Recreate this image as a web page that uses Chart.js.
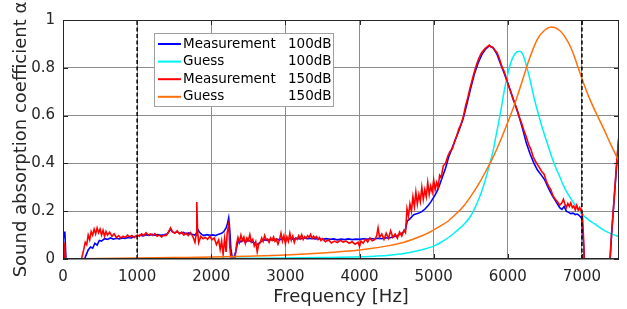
<!DOCTYPE html>
<html>
<head>
<meta charset="utf-8">
<script src="https://cdn.jsdelivr.net/npm/chart.js@4.4.1/dist/chart.umd.min.js"></script>
<style>
	html, body { margin: 0; padding: 0; background: #fff; }
	#wrap { width: 627px; height: 309px; }
</style>
</head>
<body>
<div id="wrap"><canvas id="alpha-chart" width="627" height="309"></canvas></div>
<script>
// Axis ticks
const xTicks = [ 0, 1000, 2000, 3000, 4000, 5000, 6000, 7000 ];
const yTicks = [ 0, 0.2, 0.4, 0.6, 0.8, 1 ];
const markerFreqs = [ 1000, 7000 ];

// Legend text: [ name, level ]
const seriesNames = [
	[ 'Measurement', '100dB' ],
	[ 'Guess', '100dB' ],
	[ 'Measurement', '150dB' ],
	[ 'Guess', '150dB' ],
];

// [ frequency Hz, alpha ]
const measurement100 = [
	[0,0.12],[15,0.09],[25,0.115],[40,0],[120,0],[200,0],[290,0],[310,0.015],[340,0.038],
	[370,0.05],[400,0.045],[430,0.066],[460,0.058],[490,0.078],[520,0.075],[560,0.085],
	[600,0.082],[640,0.088],[680,0.083],[720,0.087],[760,0.084],[800,0.088],[840,0.086],
	[880,0.09],[920,0.088],[960,0.093],[1000,0.096],[1040,0.1],[1080,0.097],[1120,0.101],
	[1160,0.099],[1200,0.103],[1240,0.1],[1280,0.102],[1320,0.099],[1360,0.101],[1400,0.104],
	[1430,0.115],[1450,0.125],[1470,0.115],[1500,0.11],[1540,0.113],[1580,0.107],[1620,0.111],
	[1660,0.106],[1700,0.109],[1740,0.104],[1780,0.1],[1800,0.108],[1815,0.125],[1840,0.112],
	[1870,0.103],[1900,0.098],[1940,0.102],[1980,0.099],[2020,0.101],[2060,0.098],[2100,0.104],
	[2140,0.108],[2170,0.115],[2200,0.13],[2220,0.15],[2235,0.172],[2250,0.12],[2265,0.04],
	[2285,0.005],[2310,0.01],[2330,0.03],[2350,0.06],[2375,0.08],[2400,0.072],[2430,0.08],
	[2460,0.07],[2500,0.078],[2540,0.072],[2580,0.068],[2610,0.058],[2640,0.065],[2680,0.075],
	[2720,0.08],[2760,0.078],[2800,0.082],[2840,0.079],[2880,0.083],[2920,0.08],[2960,0.085],
	[3000,0.082],[3050,0.086],[3100,0.083],[3150,0.087],[3200,0.084],[3250,0.088],[3300,0.085],
	[3350,0.087],[3400,0.084],[3450,0.086],[3500,0.082],[3550,0.085],[3600,0.082],[3650,0.084],
	[3700,0.08],[3750,0.083],[3800,0.081],[3850,0.084],[3900,0.081],[3950,0.083],[4000,0.082],
	[4050,0.085],[4100,0.083],[4150,0.086],[4200,0.084],[4250,0.087],[4300,0.085],[4350,0.089],
	[4400,0.088],[4450,0.092],[4500,0.096],[4550,0.104],[4590,0.112],[4620,0.125],[4645,0.16],
	[4670,0.165],[4700,0.175],[4730,0.185],[4760,0.188],[4800,0.192],[4840,0.198],[4880,0.208],
	[4920,0.222],[4960,0.238],[5000,0.258],[5040,0.28],[5080,0.31],[5120,0.345],[5160,0.38],
	[5200,0.425],[5250,0.465],[5300,0.505],[5350,0.545],[5400,0.59],[5450,0.65],[5500,0.715],
	[5550,0.775],[5600,0.82],[5650,0.855],[5700,0.878],[5750,0.892],[5800,0.884],[5850,0.86],
	[5900,0.818],[5950,0.778],[6000,0.735],[6050,0.69],[6100,0.645],[6150,0.598],[6200,0.545],
	[6250,0.485],[6300,0.44],[6350,0.402],[6400,0.372],[6450,0.352],[6500,0.33],[6550,0.295],
	[6600,0.265],[6650,0.24],[6700,0.215],[6730,0.208],[6760,0.22],[6790,0.2],[6820,0.195],
	[6850,0.19],[6880,0.192],[6910,0.186],[6940,0.188],[6970,0.18],[7000,0.168],[7015,0.1],
	[7030,0.02],[7050,-0.2],[7080,-0.4],[7340,-0.4],[7370,-0.05],[7400,0.1],[7430,0.23],
	[7470,0.4],[7500,0.515],
];

const measurement150 = [
	[0,0.07],[12,0],[22,0.065],[35,0],[120,0],[250,0],[280,0.04],[300,0.07],[320,0.06],
	[340,0.1],[360,0.08],[380,0.115],[400,0.1],[420,0.125],[440,0.105],[460,0.13],[480,0.11],
	[500,0.125],[520,0.1],[540,0.12],[560,0.095],[580,0.115],[600,0.1],[630,0.112],[660,0.095],
	[690,0.105],[720,0.09],[750,0.098],[780,0.088],[810,0.095],[840,0.09],[870,0.1],[900,0.092],
	[930,0.098],[960,0.09],[1000,0.1],[1030,0.095],[1060,0.105],[1090,0.098],[1120,0.11],
	[1150,0.1],[1180,0.105],[1210,0.098],[1240,0.106],[1270,0.095],[1300,0.1],[1330,0.092],
	[1360,0.1],[1390,0.098],[1420,0.11],[1450,0.13],[1480,0.112],[1510,0.108],[1540,0.118],
	[1570,0.105],[1600,0.112],[1630,0.1],[1660,0.108],[1690,0.098],[1720,0.11],[1750,0.095],
	[1780,0.07],[1795,0.1],[1805,0.238],[1815,0.12],[1830,0.068],[1860,0.095],[1890,0.085],
	[1920,0.09],[1950,0.082],[1980,0.095],[2010,0.08],[2040,0.088],[2070,0.06],[2100,0.08],
	[2120,0.04],[2140,0.075],[2160,0.02],[2180,0.085],[2200,0.03],[2215,0.11],[2235,0.143],
	[2250,0.05],[2265,0],[2300,-0.01],[2320,0],[2340,0.06],[2360,0.09],[2380,0.07],[2400,0.1],
	[2420,0.078],[2440,0.092],[2460,0.065],[2480,0.088],[2500,0.078],[2520,0.102],[2540,0.072],
	[2560,0.082],[2580,0.055],[2600,0.072],[2620,0.03],[2640,0.062],[2660,0.068],[2680,0.088],
	[2700,0.074],[2720,0.098],[2740,0.08],[2760,0.084],[2780,0.07],[2800,0.088],[2820,0.078],
	[2840,0.092],[2860,0.074],[2880,0.082],[2900,0.062],[2920,0.08],[2940,0.108],[2960,0.075],
	[2980,0.098],[3000,0.064],[3020,0.092],[3040,0.074],[3060,0.108],[3080,0.078],[3100,0.096],
	[3120,0.07],[3140,0.088],[3160,0.082],[3180,0.098],[3200,0.086],[3220,0.102],[3240,0.082],
	[3260,0.094],[3280,0.087],[3300,0.098],[3320,0.09],[3340,0.103],[3360,0.086],[3380,0.096],
	[3400,0.088],[3420,0.094],[3440,0.082],[3460,0.09],[3480,0.077],[3500,0.085],[3540,0.072],
	[3580,0.08],[3620,0.067],[3660,0.075],[3700,0.069],[3740,0.078],[3780,0.071],[3820,0.075],
	[3860,0.066],[3900,0.072],[3940,0.062],[3980,0.07],[4000,0.052],[4020,0.075],[4050,0.066],
	[4080,0.084],[4110,0.071],[4140,0.088],[4170,0.076],[4200,0.08],[4230,0.095],[4250,0.13],
	[4270,0.09],[4300,0.105],[4330,0.082],[4360,0.108],[4390,0.086],[4420,0.118],[4450,0.09],
	[4480,0.104],[4510,0.087],[4540,0.113],[4570,0.096],[4600,0.12],[4620,0.11],[4640,0.21],
	[4660,0.18],[4680,0.23],[4700,0.2],[4720,0.26],[4740,0.22],[4760,0.28],[4780,0.23],
	[4800,0.27],[4820,0.24],[4840,0.3],[4860,0.25],[4880,0.29],[4900,0.26],[4920,0.32],
	[4940,0.27],[4960,0.305],[4980,0.28],[5000,0.33],[5020,0.29],[5040,0.32],[5060,0.3],
	[5080,0.35],[5100,0.34],[5130,0.39],[5160,0.4],[5190,0.43],[5220,0.45],[5250,0.46],
	[5280,0.49],[5310,0.515],[5340,0.545],[5370,0.565],[5400,0.595],[5430,0.64],[5460,0.675],
	[5490,0.715],[5520,0.75],[5550,0.785],[5580,0.815],[5610,0.84],[5640,0.86],[5670,0.872],
	[5700,0.882],[5730,0.89],[5750,0.895],[5770,0.888],[5800,0.885],[5830,0.872],[5860,0.86],
	[5890,0.835],[5920,0.805],[5950,0.785],[5980,0.755],[6010,0.725],[6040,0.7],[6070,0.67],
	[6100,0.645],[6130,0.62],[6160,0.59],[6190,0.565],[6220,0.535],[6250,0.51],[6280,0.48],
	[6310,0.46],[6340,0.43],[6370,0.41],[6400,0.395],[6430,0.38],[6460,0.365],[6490,0.355],
	[6520,0.325],[6550,0.305],[6580,0.29],[6610,0.265],[6640,0.25],[6670,0.24],[6700,0.225],
	[6730,0.235],[6750,0.25],[6770,0.23],[6790,0.215],[6810,0.232],[6830,0.22],[6850,0.235],
	[6870,0.215],[6890,0.222],[6910,0.205],[6930,0.225],[6950,0.205],[6970,0.215],[6990,0.2],
	[7005,0.19],[7020,0.1],[7035,-0.05],[7060,-0.3],[7080,-0.4],[7340,-0.4],[7375,-0.02],
	[7400,0.11],[7430,0.235],[7470,0.41],[7500,0.52],
];

const guess100 = [
	[0,0],[500,0.0005],[1000,0.001],[1500,0.0015],[2000,0.002],[2500,0.003],[3000,0.004],
	[3500,0.006],[4000,0.009],[4200,0.012],[4400,0.016],[4600,0.023],[4800,0.036],[4900,0.044],
	[5000,0.054],[5100,0.07],[5200,0.09],[5300,0.115],[5400,0.142],[5500,0.18],[5550,0.21],
	[5600,0.245],[5650,0.285],[5700,0.335],[5750,0.39],[5800,0.45],[5850,0.53],[5900,0.61],
	[5950,0.7],[6000,0.775],[6050,0.83],[6100,0.86],[6160,0.869],[6200,0.858],[6250,0.81],
	[6300,0.75],[6350,0.68],[6400,0.62],[6450,0.565],[6500,0.515],[6550,0.468],[6600,0.42],
	[6650,0.38],[6700,0.345],[6750,0.308],[6800,0.278],[6850,0.253],[6900,0.23],[6950,0.207],
	[7000,0.188],[7050,0.174],[7100,0.162],[7200,0.141],[7300,0.12],[7400,0.105],[7500,0.094],
];

const guess150 = [
	[0,0],[500,0.002],[1000,0.004],[1500,0.006],[2000,0.008],[2500,0.012],[3000,0.017],
	[3500,0.025],[3800,0.032],[4000,0.038],[4200,0.046],[4400,0.056],[4600,0.07],[4800,0.092],
	[4900,0.105],[5000,0.122],[5100,0.14],[5200,0.16],[5300,0.188],[5400,0.22],[5500,0.262],
	[5600,0.31],[5700,0.365],[5800,0.425],[5900,0.495],[6000,0.572],[6100,0.655],[6200,0.75],
	[6300,0.845],[6400,0.92],[6500,0.958],[6585,0.971],[6700,0.956],[6800,0.915],[6850,0.885],
	[6900,0.845],[6950,0.8],[7000,0.755],[7050,0.712],[7100,0.673],[7200,0.605],[7300,0.54],
	[7400,0.472],[7500,0.408],
];

const FONT = 'DejaVu Sans';
const INK = '#262626';

const toPoints = ( pairs ) => pairs.map( ( [ x, y ] ) => ( { x, y } ) );

// frame box + inward tick marks
const framePlugin = {
	id: 'frame',
	afterDatasetsDraw( chart ) {
		const { ctx, chartArea: a, scales } = chart;
		ctx.save();
		ctx.strokeStyle = INK;
		ctx.lineWidth = 1;
		ctx.beginPath();
		xTicks.forEach( ( v ) => {
			const px = Math.round( scales.x.getPixelForValue( v ) ) + 0.5;
			ctx.moveTo( px, a.bottom );
			ctx.lineTo( px, a.bottom - 5 );
			ctx.moveTo( px, a.top );
			ctx.lineTo( px, a.top + 5 );
		} );
		yTicks.forEach( ( v ) => {
			const py = Math.round( scales.y.getPixelForValue( v ) ) + 0.5;
			ctx.moveTo( a.left, py );
			ctx.lineTo( a.left + 5, py );
			ctx.moveTo( a.right, py );
			ctx.lineTo( a.right - 5, py );
		} );
		ctx.stroke();
		ctx.strokeRect( a.left + 0.5, a.top + 0.5, a.width - 1, a.height - 1 );
		ctx.restore();
	},
};

// boxed legend with name and level columns
const legendPlugin = {
	id: 'boxLegend',
	afterDraw( chart ) {
		const { ctx } = chart;
		const box = { x: 154, y: 33, w: 179, h: 73 };
		ctx.save();
		ctx.fillStyle = '#fff';
		ctx.fillRect( box.x, box.y, box.w, box.h );
		ctx.strokeStyle = '#a0a0a0';
		ctx.lineWidth = 1;
		ctx.strokeRect( box.x + 0.5, box.y + 0.5, box.w, box.h );
		ctx.font = '13.5px "' + FONT + '"';
		ctx.textBaseline = 'middle';
		ctx.fillStyle = '#000';
		seriesNames.forEach( ( [ name, level ], i ) => {
			const ds = chart.data.datasets[ i ];
			const y = box.y + 11 + i * 17.6;
			ctx.strokeStyle = ds.borderColor;
			ctx.lineWidth = 2;
			ctx.beginPath();
			ctx.moveTo( box.x + 4, y );
			ctx.lineTo( box.x + 27, y );
			ctx.stroke();
			ctx.fillText( name, box.x + 29, y );
			ctx.fillText( level, box.x + 134, y );
		} );
		ctx.restore();
	},
};

const lineSet = ( label, pairs, color, order, width, smooth ) => ( {
	label,
	data: toPoints( pairs ),
	borderColor: color,
	backgroundColor: color,
	borderWidth: width,
	pointRadius: 0,
	tension: 0,
	cubicInterpolationMode: smooth ? 'monotone' : 'default',
	order,
} );

const datasets = [
	lineSet( 'Measurement 100dB', measurement100, '#0000ff', 4, 1.6, false ),
	lineSet( 'Guess 100dB', guess100, '#00f2f2', 3, 1.5, true ),
	lineSet( 'Measurement 150dB', measurement150, '#ff0000', 2, 1.6, false ),
	lineSet( 'Guess 150dB', guess150, '#ff700a', 1, 1.5, true ),
];

markerFreqs.forEach( ( f ) => {
	datasets.push( {
		label: 'marker ' + f,
		data: [ { x: f, y: 0 }, { x: f, y: 1 } ],
		borderColor: '#000',
		borderWidth: 1.5,
		borderDash: [ 4, 2.5 ],
		pointRadius: 0,
		order: 0,
	} );
} );

new Chart( document.getElementById( 'alpha-chart' ), {
	type: 'line',
	data: { datasets },
	options: {
		responsive: false,
		animation: false,
		devicePixelRatio: 1,
		parsing: false,
		layout: { padding: { top: 20, right: 8, left: 0, bottom: 0 } },
		plugins: {
			legend: { display: false },
			tooltip: { enabled: false },
		},
		scales: {
			x: {
				type: 'linear',
				min: 0,
				max: 7500,
				afterBuildTicks: ( s ) => { s.ticks = xTicks.map( ( value ) => ( { value } ) ); },
				afterFit: ( s ) => { s.height = 50; },
				grid: { color: '#8c8c8c', lineWidth: 1, drawTicks: false },
				border: { display: false },
				ticks: {
					padding: 9,
					color: INK,
					font: { family: FONT, size: 15 },
					maxRotation: 0,
					callback: ( v ) => String( v ),
				},
				title: {
					display: true,
					text: 'Frequency [Hz]',
					color: INK,
					font: { family: FONT, size: 18 },
					padding: { top: 0, bottom: 1 },
				},
			},
			y: {
				type: 'linear',
				min: 0,
				max: 1,
				afterBuildTicks: ( s ) => { s.ticks = yTicks.map( ( value ) => ( { value } ) ); },
				afterFit: ( s ) => { s.width = 63; },
				grid: { color: '#8c8c8c', lineWidth: 1, drawTicks: false },
				border: { display: false },
				ticks: {
					padding: 8,
					color: INK,
					font: { family: FONT, size: 15 },
					callback: ( v ) => String( v ),
				},
				title: {
					display: true,
					text: 'Sound absorption coefficient α',
					color: INK,
					font: { family: FONT, size: 18 },
					padding: { top: 11, bottom: 0 },
				},
			},
		},
	},
	plugins: [ framePlugin, legendPlugin ],
} );
</script>
</body>
</html>
